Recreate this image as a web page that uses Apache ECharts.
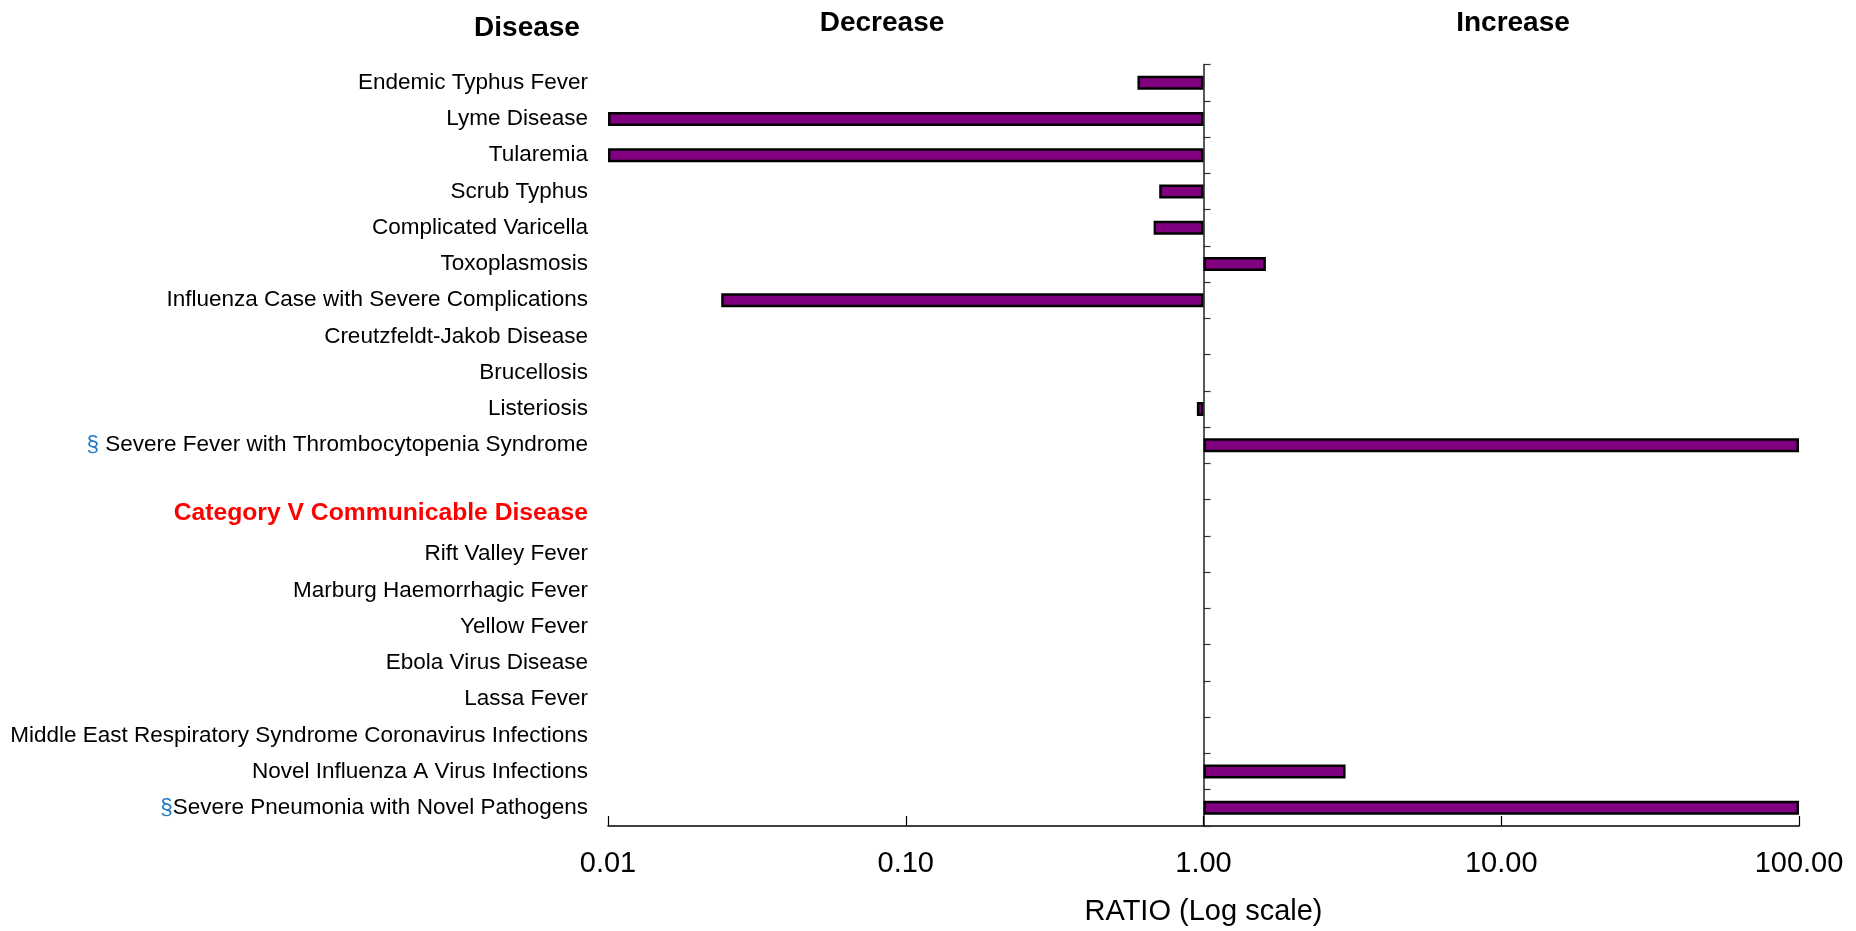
<!DOCTYPE html>
<html>
<head>
<meta charset="utf-8">
<script src="https://cdn.jsdelivr.net/npm/echarts@6/dist/echarts.min.js"></script>
<style>
  html, body { margin: 0; padding: 0; background: #fff; }
  #chart { width: 1856px; height: 931px; }
</style>
</head>
<body>
<div id="chart"></div>
<script>
// ---- data ----
const categories = [
  'Endemic Typhus Fever',
  'Lyme Disease',
  'Tularemia',
  'Scrub Typhus',
  'Complicated Varicella',
  'Toxoplasmosis',
  'Influenza Case with Severe Complications',
  'Creutzfeldt-Jakob Disease',
  'Brucellosis',
  'Listeriosis',
  '§ Severe Fever with Thrombocytopenia Syndrome',
  '',
  'Category V Communicable Disease',
  'Rift Valley Fever',
  'Marburg Haemorrhagic Fever',
  'Yellow Fever',
  'Ebola Virus Disease',
  'Lassa Fever',
  'Middle East Respiratory Syndrome Coronavirus Infections',
  'Novel Influenza A Virus Infections',
  '§Severe Pneumonia with Novel Pathogens'
];
const headerCategories = ['Category V Communicable Disease'];
const ratios = [
  0.60, 0.01, 0.01, 0.71, 0.68, 1.62, 0.024, null, null, 0.95, 100,
  null, null,
  null, null, null, null, null, null, 3.0, 100
];
const tickValues = [0.01, 0.10, 1.00, 10.00, 100.00];
const axisTitle = 'RATIO (Log scale)';
const panelTitles = ['Disease', 'Decrease', 'Increase'];

// ---- chart ----
const FONT = '"Liberation Sans", Arial, sans-serif';
const gridLeft = 608, gridRight = 57, gridTop = 64.5, gridBottom = 102;
const gridWidth = 1856 - gridLeft - gridRight;

const chart = echarts.init(document.getElementById('chart'), null, { renderer: 'canvas' });

const option = {
  animation: false,
  backgroundColor: '#ffffff',
  textStyle: { fontFamily: FONT },
  grid: { left: gridLeft, right: gridRight, top: gridTop, bottom: gridBottom, containLabel: false },
  xAxis: {
    type: 'log',
    logBase: 10,
    min: tickValues[0],
    max: tickValues[tickValues.length - 1],
    name: axisTitle,
    nameLocation: 'middle',
    nameGap: 71,
    nameTextStyle: { fontSize: 29, color: '#000', fontFamily: FONT },
    axisLine: { show: true, lineStyle: { color: '#000', width: 1.5 } },
    axisTick: { show: true, inside: true, length: 10, lineStyle: { color: '#000', width: 1.2 } },
    axisLabel: {
      fontSize: 29, color: '#000', margin: 23, fontFamily: FONT,
      formatter: v => Number(v).toFixed(2)
    },
    splitLine: { show: false },
    minorTick: { show: false }
  },
  yAxis: [
    {
      type: 'category',
      inverse: true,
      data: categories,
      axisLine: { show: false },
      axisTick: { show: false },
      splitLine: { show: false },
      axisLabel: {
        margin: 20,
        interval: 0,
        fontSize: 22.5,
        color: '#000',
        fontFamily: FONT,
        formatter: function (v) {
          if (headerCategories.indexOf(v) >= 0) return '{h|' + v + '}';
          if (v.charAt(0) === '§') return '{s|§}{n|' + v.slice(1) + '}';
          return '{n|' + v + '}';
        },
        rich: {
          n: { fontSize: 22.5, color: '#000', fontFamily: FONT },
          s: { fontSize: 22.5, color: '#1F78C8', fontFamily: FONT },
          h: { fontSize: 24.7, color: '#FF0000', fontWeight: 'bold', fontFamily: FONT, padding: [0, 0, 9, 0] }
        }
      }
    },
    {
      type: 'category',
      inverse: true,
      data: categories,
      position: 'left',
      offset: -gridWidth / 2,
      axisLine: { show: true, lineStyle: { color: '#222', width: 1.5 } },
      axisTick: { show: true, inside: true, length: 7, interval: 0, lineStyle: { color: '#333', width: 1.2 } },
      axisLabel: { show: false },
      splitLine: { show: false }
    }
  ],
  series: [
    {
      type: 'bar',
      yAxisIndex: 0,
      data: ratios,
      barWidth: 14,
      itemStyle: { color: '#800080', borderColor: '#000', borderWidth: 2.5 },
      silent: true
    }
  ],
  graphic: [
    { type: 'text', x: 527, y: 28, style: { text: panelTitles[0], fontSize: 28, fontWeight: 'bold', fontFamily: FONT, fill: '#000', align: 'center', verticalAlign: 'middle' } },
    { type: 'text', x: 882, y: 23, style: { text: panelTitles[1], fontSize: 28, fontWeight: 'bold', fontFamily: FONT, fill: '#000', align: 'center', verticalAlign: 'middle' } },
    { type: 'text', x: 1513, y: 23, style: { text: panelTitles[2], fontSize: 28, fontWeight: 'bold', fontFamily: FONT, fill: '#000', align: 'center', verticalAlign: 'middle' } }
  ]
};

chart.setOption(option);
</script>
</body>
</html>
